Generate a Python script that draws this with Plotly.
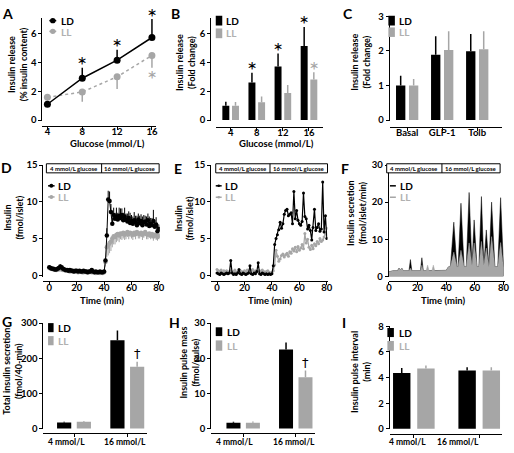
import plotly.graph_objects as go

W, H = 514, 453
def X(px): return px / W
def Y(py): return 1 - py / H

FONT = "Lato, Liberation Sans, Arial, sans-serif"
BLACK = "#000000"
GREY = "#a6a6a6"
LTXT = "#b0b0b0"

# ---------------- DATA ----------------
# Panel A
glucose = [4, 8, 12, 16]
A_LD = [1.1, 2.9, 4.15, 5.72]
A_LD_err = [0.05, 0.72, 0.72, 1.28]
A_LL = [1.58, 1.95, 3.0, 4.48]
A_LL_err = [0.05, 0.68, 0.84, 0.85]
A_LD_sig = [False, True, True, True]
A_LL_sig = [False, False, False, True]

# Panel B
B_cats = ["4", "8", "12", "16"]
B_LD = [1.0, 2.6, 3.71, 5.13]
B_LD_err = [0.27, 0.68, 0.9, 1.32]
B_LL = [1.0, 1.24, 1.87, 2.82]
B_LL_err = [0.26, 0.4, 0.56, 0.5]
B_LD_sig = [False, True, True, True]
B_LL_sig = [False, False, False, True]

# Panel C
C_cats = ["Basal", "GLP-1", "Tolb"]
C_LD = [1.0, 1.89, 1.99]
C_LD_err = [0.28, 0.54, 0.5]
C_LL = [1.0, 2.03, 2.05]
C_LL_err = [0.19, 0.54, 0.52]

# Panel D (perifusion, 1-min samples)
D_time = list(range(0, 81))
D_LD = [1.1, 1.0, 0.9, 0.9, 0.8, 0.8, 0.9, 1.0, 1.2, 1.1,
        0.9, 0.8, 0.7, 0.7, 0.6, 0.7, 0.6, 0.6, 0.5, 0.6,
        0.6, 0.5, 0.6, 0.5, 0.5, 0.6, 0.5, 0.5, 0.4, 0.5,
        0.5, 0.7, 0.5, 0.4, 0.5, 0.4, 0.4, 0.5, 0.4, 0.4,
        0.5,
        2.0, 5.4, 10.3, 10.1, 8.6, 7.0, 8.2, 7.7, 8.0, 7.6,
        8.1, 7.8, 8.2, 7.5, 8.0, 7.6, 7.3, 7.8, 7.1, 7.4,
        7.0, 7.5, 7.2, 6.8, 7.6, 7.1, 7.4, 6.8, 7.2, 7.3,
        6.9, 7.5, 6.7, 7.0, 6.8, 7.4, 6.6, 6.9, 6.0, 6.3]
D_LD_err = [0.2, 0.1, 0.1, 0.1, 0.1, 0.1, 0.1, 0.2, 0.3, 0.2,
            0.1, 0.1, 0.1, 0.1, 0.1, 0.1, 0.1, 0.1, 0.1, 0.1,
            0.1, 0.1, 0.1, 0.1, 0.1, 0.1, 0.1, 0.1, 0.1, 0.1,
            0.1, 0.2, 0.1, 0.1, 0.1, 0.1, 0.1, 0.1, 0.1, 0.1,
            0.1,
            0.4, 1.0, 1.2, 1.3, 1.1, 0.9, 1.0, 0.8, 1.2, 0.9,
            1.1, 1.3, 0.9, 1.0, 1.2, 0.8, 1.1, 0.9, 1.4, 0.8,
            1.0, 1.1, 0.9, 1.3, 0.8, 1.0, 0.9, 1.2, 1.0, 0.8,
            1.1, 0.9, 1.3, 0.8, 1.0, 1.5, 0.9, 1.0, 0.7, 0.6]
D_LL = [1.0, 0.9, 0.9, 0.8, 0.8, 0.7, 0.8, 0.8, 0.9, 0.8,
        0.7, 0.7, 0.6, 0.6, 0.6, 0.5, 0.6, 0.5, 0.5, 0.5,
        0.5, 0.4, 0.5, 0.5, 0.4, 0.4, 0.5, 0.4, 0.4, 0.4,
        0.5, 0.4, 0.4, 0.4, 0.3, 0.4, 0.4, 0.3, 0.4, 0.3,
        0.4,
        1.8, 3.8, 4.1, 4.4, 4.6, 5.0, 5.3, 5.2, 5.5, 5.6,
        5.4, 5.7, 5.6, 5.8, 5.5, 5.7, 5.9, 5.6, 5.8, 5.7,
        5.5, 5.8, 5.6, 5.9, 5.7, 5.6, 5.8, 5.5, 5.7, 5.9,
        5.6, 5.5, 5.7, 5.4, 5.6, 5.3, 5.5, 5.4, 5.2, 5.4]
D_LL_err = [0.1, 0.1, 0.1, 0.1, 0.1, 0.1, 0.1, 0.1, 0.1, 0.1,
            0.1, 0.1, 0.1, 0.1, 0.1, 0.1, 0.1, 0.1, 0.1, 0.1,
            0.1, 0.1, 0.1, 0.1, 0.1, 0.1, 0.1, 0.1, 0.1, 0.1,
            0.1, 0.1, 0.1, 0.1, 0.1, 0.1, 0.1, 0.1, 0.1, 0.1,
            0.1,
            0.6, 1.3, 1.4, 1.4, 1.3, 1.2, 1.1, 1.0, 1.0, 0.9,
            0.9, 0.8, 0.8, 0.8, 0.7, 0.8, 0.7, 0.7, 0.6, 0.7,
            0.7, 0.6, 0.7, 0.6, 0.7, 0.6, 0.6, 0.7, 0.6, 0.6,
            0.7, 0.6, 0.6, 0.5, 0.6, 0.6, 0.5, 0.6, 0.5, 0.5]

# Panel E (single representative experiment)
E_time = list(range(0, 81))
E_LD = [0.3, 0.2, 0.1, 0.3, 0.2, 0.1, 0.2, 0.3, 0.2, 0.3,
        2.0, 0.3, 0.1, 0.2, 0.1, 0.3, 0.8, 0.2, 0.1, 0.3,
        0.2, 0.1, 0.2, 0.3, 1.3, 0.2, 0.1, 0.3, 0.2, 0.5,
        1.7, 0.2, 0.1, 0.3, 0.2, 0.1, 0.2, 0.1, 0.2, 0.1,
        0.2,
        1.3, 4.2, 5.0, 5.5, 6.2, 7.2, 6.4, 7.0, 8.3, 8.8,
        9.0, 8.1, 8.3, 8.5, 7.0, 11.4, 7.7, 8.8, 7.5, 7.0,
        6.8, 7.3, 11.2, 8.0, 7.7, 6.3, 6.8, 6.1, 4.8, 6.5,
        9.0, 6.1, 6.5, 7.0, 6.0, 6.3, 12.7, 5.9, 8.1, 5.0]
E_LL = [0.8, 0.6, 0.5, 0.7, 0.4, 0.6, 0.5, 0.6, 0.4, 0.5,
        0.6, 0.4, 0.5, 0.7, 0.4, 0.5, 0.4, 0.6, 0.5, 0.4,
        0.6, 0.5, 0.7, 0.5, 0.4, 0.6, 0.8, 0.5, 0.6, 0.4,
        0.5, 0.6, 0.4, 0.7, 0.5, 0.4, 0.5, 0.6, 0.4, 0.3,
        0.4,
        0.6, 1.4, 3.4, 2.6, 1.9, 2.2, 2.7, 2.9, 2.5, 2.8,
        3.0, 2.6, 3.2, 3.0, 3.6, 3.3, 3.8, 3.2, 3.9, 3.4,
        3.7, 4.2, 3.6, 5.7, 4.4, 4.9, 3.8, 3.5, 4.1, 3.6,
        4.3, 4.0, 4.6, 4.3, 5.0, 4.6, 4.8, 5.2, 5.6, 6.4]

# Panel F (deconvolved secretion rate)
F_time = [0, 3, 6, 7, 8, 9, 10, 14, 15, 16, 22, 23, 24, 26, 27, 28, 30, 31, 32,
          40, 41.5, 43, 45.3, 47.5, 48.3, 50.3, 52.5, 54, 56, 58, 59.5, 61.5, 62.8, 64.6, 66.3,
          68, 69.8, 71.7, 74, 76, 78, 80]
F_LD = [1.2, 1.5, 1.5, 2.2, 1.8, 2.2, 1.5, 1.5, 4.5, 1.5, 1.5, 5.0, 1.5, 1.5, 1.5, 1.5, 1.5, 1.5, 1.5,
        1.6, 2.5, 2.8, 14.6, 2.6, 2.6, 19.7, 2.6, 2.6, 22.6, 3.0, 15.2, 2.6, 2.6, 21.5, 3.0,
        12.5, 2.6, 20.0, 2.6, 2.6, 21.2, 2.6]
F_LL = [1.2, 1.5, 1.5, 2.2, 1.8, 2.2, 1.5, 1.5, 2.2, 1.5, 1.5, 3.0, 1.5, 1.5, 3.0, 1.5, 1.5, 3.0, 1.5,
        1.6, 2.5, 2.8, 6.5, 2.6, 2.6, 7.0, 2.6, 2.6, 9.0, 3.0, 9.0, 2.6, 2.6, 9.4, 3.0,
        7.6, 2.6, 10.7, 2.6, 2.6, 9.1, 2.6]

# Panels G, H, I
GHI_cats = ["4 mmol/L", "16 mmol/L"]
G_LD = [17, 251]
G_LD_err = [2, 28]
G_LL = [19, 176]
G_LL_err = [2.5, 14]
H_LD = [1.6, 22.5]
H_LD_err = [0.3, 2.0]
H_LL = [1.6, 14.6]
H_LL_err = [0.4, 1.9]
I_LD = [4.35, 4.55]
I_LD_err = [0.4, 0.25]
I_LL = [4.7, 4.55]
I_LL_err = [0.25, 0.25]
GH_LL_sig = [False, True]

# ---------------- FIGURE ----------------
fig = go.Figure()
zeros = lambda n: [0] * n

def up(err, color, th=1.5):
    return dict(type="data", symmetric=False, array=err, arrayminus=zeros(len(err)),
                color=color, thickness=th, width=0)

def down(err, color, th=1.5):
    return dict(type="data", symmetric=False, array=zeros(len(err)), arrayminus=err,
                color=color, thickness=th, width=0)

# A
fig.add_trace(go.Scatter(x=glucose, y=A_LL, mode="lines+markers", xaxis="x", yaxis="y",
                         line=dict(color=GREY, width=1.5, dash="dot"),
                         marker=dict(color=GREY, size=7), error_y=down(A_LL_err, GREY)))
fig.add_trace(go.Scatter(x=glucose, y=A_LD, mode="lines+markers", xaxis="x", yaxis="y",
                         line=dict(color=BLACK, width=1.5),
                         marker=dict(color=BLACK, size=7), error_y=up(A_LD_err, BLACK)))

# B, C, G, H, I bars
def bars(cats, ld, lde, ll, lle, xa, ya):
    fig.add_trace(go.Bar(x=cats, y=ld, marker=dict(color=BLACK, line=dict(width=0)),
                         error_y=up(lde, BLACK), xaxis=xa, yaxis=ya))
    fig.add_trace(go.Bar(x=cats, y=ll, marker=dict(color=GREY, line=dict(width=0)),
                         error_y=up(lle, GREY), xaxis=xa, yaxis=ya))

bars(B_cats, B_LD, B_LD_err, B_LL, B_LL_err, "x2", "y2")
bars(C_cats, C_LD, C_LD_err, C_LL, C_LL_err, "x3", "y3")
bars(GHI_cats, G_LD, G_LD_err, G_LL, G_LL_err, "x7", "y7")
bars(GHI_cats, H_LD, H_LD_err, H_LL, H_LL_err, "x8", "y8")
bars(GHI_cats, I_LD, I_LD_err, I_LL, I_LL_err, "x9", "y9")

# D
fig.add_trace(go.Scatter(x=D_time, y=D_LL, mode="lines+markers", xaxis="x4", yaxis="y4",
                         line=dict(color=GREY, width=1), marker=dict(color=GREY, size=4.5),
                         error_y=down(D_LL_err, GREY, 1)))
fig.add_trace(go.Scatter(x=D_time, y=D_LD, mode="lines+markers", xaxis="x4", yaxis="y4",
                         line=dict(color=BLACK, width=1), marker=dict(color=BLACK, size=4.5),
                         error_y=up(D_LD_err, BLACK, 1)))
# E
fig.add_trace(go.Scatter(x=E_time, y=E_LL, mode="lines+markers", xaxis="x5", yaxis="y5",
                         line=dict(color=GREY, width=1.2), marker=dict(color=GREY, size=3)))
fig.add_trace(go.Scatter(x=E_time, y=E_LD, mode="lines+markers", xaxis="x5", yaxis="y5",
                         line=dict(color=BLACK, width=1.2), marker=dict(color=BLACK, size=3)))
# F
fig.add_trace(go.Scatter(x=F_time, y=F_LD, mode="lines", fill="tozeroy", xaxis="x6", yaxis="y6",
                         line=dict(color=BLACK, width=0.5), fillcolor=BLACK))
fig.add_trace(go.Scatter(x=F_time, y=F_LL, mode="lines", fill="tozeroy", xaxis="x6", yaxis="y6",
                         line=dict(color=GREY, width=0.5), fillcolor=GREY))

fig.update_traces(showlegend=False)

tickfont = dict(family=FONT, size=9.5, color="black", weight="bold")
common = dict(showline=True, linecolor="black", linewidth=1, ticks="outside", ticklen=3,
              tickwidth=1, tickcolor="black", showgrid=False, zeroline=False,
              tickfont=tickfont, fixedrange=True)
xcommon = dict(common, ticklabelstandoff=-6)

layout_axes = dict(
    xaxis=dict(domain=[X(41), X(156)], range=[3.43, 16.45], anchor="free", position=Y(123),
               tickvals=glucose, **xcommon),
    yaxis=dict(domain=[Y(118), Y(12)], range=[-0.07, 7.09], anchor="x", tickvals=[0, 2, 4, 6], **common),
    xaxis2=dict(domain=[X(217), X(325)], type="category", range=[-0.56, 3.52], anchor="free",
                position=Y(124), **xcommon),
    yaxis2=dict(domain=[Y(118), Y(12)], range=[-0.07, 7.09], anchor="free", position=X(211),
                tickvals=[0, 2, 4, 6], **common),
    xaxis3=dict(domain=[X(393), X(507)], type="category", range=[-0.5, 2.71], anchor="free",
                position=Y(124), **xcommon),
    yaxis3=dict(domain=[Y(118), Y(10.7)], range=[-0.03, 3.0], anchor="free", position=X(392),
                tickvals=[0, 1, 2, 3], **common),
    xaxis4=dict(domain=[X(42), X(160)], range=[-4.3, 80.7], anchor="free", position=Y(282),
                tickvals=[0, 20, 40, 60, 80], **xcommon),
    yaxis4=dict(domain=[Y(278), Y(163)], range=[-0.27, 15], anchor="x4", tickvals=[0, 5, 10, 15], **common),
    xaxis5=dict(domain=[X(212), X(330)], range=[-4.3, 80.5], anchor="free", position=Y(282),
                tickvals=[0, 20, 40, 60, 80], **xcommon),
    yaxis5=dict(domain=[Y(278), Y(163)], range=[-0.27, 15], anchor="x5", tickvals=[0, 5, 10, 15], **common),
    xaxis6=dict(domain=[X(392), X(510)], range=[-0.2, 81.1], anchor="free", position=Y(282),
                tickvals=[0, 20, 40, 60, 80], **xcommon),
    yaxis6=dict(domain=[Y(278), Y(163)], range=[-0.26, 30], anchor="x6", tickvals=[0, 10, 20, 30], **common),
    xaxis7=dict(domain=[X(42), X(147)], type="category", range=[-0.574, 1.37], anchor="free",
                position=Y(438), showticklabels=False, **common),
    yaxis7=dict(domain=[Y(434), Y(325)], range=[-2.8, 300], anchor="x7", tickvals=[0, 100, 200, 300], **common),
    xaxis8=dict(domain=[X(212), X(317)], type="category", range=[-0.61, 1.36], anchor="free",
                position=Y(438), showticklabels=False, **common),
    yaxis8=dict(domain=[Y(434), Y(325)], range=[-0.28, 30], anchor="x8", tickvals=[0, 10, 20, 30], **common),
    xaxis9=dict(domain=[X(393), X(507)], type="category", range=[-0.37, 1.35], anchor="free",
                position=Y(438.7), showticklabels=False, **common),
    yaxis9=dict(domain=[Y(434), Y(328.3)], range=[-0.05, 8], anchor="free", position=X(392),
                tickvals=[0, 2, 4, 6, 8], **common),
)

ann = []
shapes = []

def text(px, py, s, size=10, color="black", angle=0, xanchor="center", weight="bold"):
    ann.append(dict(x=X(px), y=Y(py), xref="paper", yref="paper", text=s, showarrow=False,
                    xanchor=xanchor, yanchor="middle", textangle=angle,
                    font=dict(family=FONT, size=size, color=color, weight=weight)))

# panel letters
for lab, px, py in [("A", 5.5, 7.5), ("B", 176, 7.5), ("C", 351, 7.7), ("D", 5, 166),
                    ("E", 178, 166.3), ("F", 347.5, 166.3), ("G", 5, 323), ("H", 175, 324),
                    ("I", 346.7, 324)]:
    text(px, py, lab, size=14)

# y-axis titles
for s, px, py in [("Insulin release<br>(% insulin content)", 16, 60),
                  ("Insulin release<br>(Fold change)", 186, 58),
                  ("Insulin release<br>(Fold change)", 364, 58),
                  ("Insulin<br>(fmol/islet)", 12, 217),
                  ("Insulin<br>(fmol/islet)", 185, 217),
                  ("Insulin secretion<br>(fmol/islet/min)", 360, 212),
                  ("Total insulin secretion<br>(fmol/40-min)", 11, 374),
                  ("Insulin pulse mass<br>(fmol/pulse)", 190, 365),
                  ("Insulin pulse interval<br>(min)", 364, 375)]:
    text(px, py, s, size=9, angle=-90)

# x-axis titles
for s, px, py in [("Glucose (mmol/L)", 107, 141), ("Glucose (mmol/L)", 278, 141),
                  ("Time (min)", 102, 302), ("Time (min)", 272, 302), ("Time (min)", 448, 302)]:
    text(px, py, s, size=9.5)

# category labels for G, H, I
for xa, shifts in [("x7", [-8, -2]), ("x8", [-9, -2]), ("x9", [-6, -21])]:
    for c, sh in zip(GHI_cats, shifts):
        ann.append(dict(x=c, xref=xa, y=Y(447), yref="paper", text=c, showarrow=False,
                        xshift=sh, yanchor="middle",
                        font=dict(family=FONT, size=8.5, color="black", weight="bold")))

# significance markers
def mark(xv, yv, xa, ya, s, color, xshift=0, below=False, size=24, family=FONT, yshift=None):
    ann.append(dict(x=xv, y=yv, xref=xa, yref=ya, text=s, showarrow=False, xshift=xshift,
                    yanchor="middle", yshift=(yshift if yshift is not None else (-11 if below else 3)),
                    font=dict(family=family, size=size, color=color)))

for i, g in enumerate(glucose):
    if A_LD_sig[i]:
        mark(g, A_LD[i] + A_LD_err[i], "x", "y", "*", BLACK)
    if A_LL_sig[i]:
        mark(g, A_LL[i] - A_LL_err[i], "x", "y", "*", GREY, below=True)
for i in range(len(B_cats)):
    if B_LD_sig[i]:
        mark(i, B_LD[i] + B_LD_err[i], "x2", "y2", "*", BLACK, xshift=-4.9)
    if B_LL_sig[i]:
        mark(i, B_LL[i] + B_LL_err[i], "x2", "y2", "*", GREY, xshift=4.9)
for i in range(len(GHI_cats)):
    if GH_LL_sig[i]:
        mark(i, G_LL[i] + G_LL_err[i], "x7", "y7", "\u2020", BLACK, xshift=10, size=13,
             family="DejaVu Sans", yshift=8)
        mark(i, H_LL[i] + H_LL_err[i], "x8", "y8", "\u2020", BLACK, xshift=10, size=13,
             family="DejaVu Sans", yshift=8)

# legends (keys)
def legend_bar(x0, y0, x1, y1, color):
    shapes.append(dict(type="rect", xref="paper", yref="paper", x0=X(x0), x1=X(x1), y0=Y(y1), y1=Y(y0),
                       fillcolor=color, line=dict(width=0)))

def legend_line(x0, x1, py, color, dot=True, r=2.0):
    shapes.append(dict(type="line", xref="paper", yref="paper", x0=X(x0), x1=X(x1), y0=Y(py), y1=Y(py),
                       line=dict(color=color, width=1.5)))
    if dot:
        cx = (x0 + x1) / 2
        shapes.append(dict(type="circle", xref="paper", yref="paper", x0=X(cx - r), x1=X(cx + r),
                           y0=Y(py + r), y1=Y(py - r), fillcolor=color, line=dict(width=0)))

LEG = 10
# A
legend_line(48, 55, 15, BLACK, r=2.8); legend_line(48, 55, 26, GREY, r=2.8)
text(57.5, 15, "LD", LEG, xanchor="left"); text(57.5, 26.5, "LL", LEG, LTXT, xanchor="left")
# B
legend_bar(216.7, 10, 223.3, 20, BLACK); legend_bar(216.7, 23, 223.3, 33, GREY)
text(225, 15, "LD", LEG, xanchor="left"); text(225, 28, "LL", LEG, LTXT, xanchor="left")
# C
legend_bar(391.7, 10, 398.3, 20, BLACK); legend_bar(391.7, 22, 398.3, 31.7, GREY)
text(400.3, 15, "LD", LEG, xanchor="left"); text(400.3, 27, "LL", LEG, LTXT, xanchor="left")
# D
legend_line(46.7, 53.3, 184.3, BLACK); legend_line(46.7, 53.3, 195.7, GREY)
text(55, 184.3, "LD", LEG, xanchor="left"); text(55, 195.7, "LL", LEG, LTXT, xanchor="left")
# E
legend_line(216.7, 222.7, 184.3, BLACK, r=1.3); legend_line(216.7, 222.7, 196, GREY, r=1.3)
text(224.5, 184.3, "LD", LEG, xanchor="left"); text(224.5, 196, "LL", LEG, LTXT, xanchor="left")
# F
legend_line(393.3, 399.3, 184.3, BLACK, dot=False); legend_line(393.3, 399.3, 196, GREY, dot=False)
text(401.5, 184.3, "LD", LEG, xanchor="left"); text(401.5, 196, "LL", LEG, LTXT, xanchor="left")
# G
legend_bar(46.7, 325, 52.3, 334.3, BLACK); legend_bar(46.7, 338.3, 52.3, 347.7, GREY)
text(55, 330, "LD", LEG, xanchor="left"); text(55, 343, "LL", LEG, LTXT, xanchor="left")
# H
legend_bar(216.7, 329.3, 223.3, 338.3, BLACK); legend_bar(216.7, 342.7, 223.3, 353.3, GREY)
text(226.5, 334, "LD", LEG, xanchor="left"); text(226.5, 348, "LL", LEG, LTXT, xanchor="left")
# I
legend_bar(390.7, 330, 397.3, 339.3, BLACK); legend_bar(390.7, 343.3, 397.3, 353.3, GREY)
text(400, 335, "LD", LEG, xanchor="left"); text(400, 348, "LL", LEG, LTXT, xanchor="left")

# glucose boxes for D, E, F
for x0, xm, x1 in [(45, 101, 159.3), (216.7, 271.7, 330), (390, 446, 505)]:
    shapes.append(dict(type="rect", xref="paper", yref="paper", x0=X(x0), x1=X(x1), y0=Y(171), y1=Y(161.7),
                       line=dict(color="black", width=1), fillcolor="white"))
    shapes.append(dict(type="line", xref="paper", yref="paper", x0=X(xm), x1=X(xm), y0=Y(171), y1=Y(161.7),
                       line=dict(color="black", width=1)))
    text((x0 + xm) / 2, 166.4, "4 mmol/L glucose", 6)
    text((xm + x1) / 2, 166.4, "16 mmol/L glucose", 6)

fig.update_layout(
    width=W, height=H, margin=dict(l=0, r=0, t=0, b=0),
    paper_bgcolor="white", plot_bgcolor="white",
    barmode="group", bargap=0.26, bargroupgap=0.28,
    showlegend=False, annotations=ann, shapes=shapes,
    font=dict(family=FONT, color="black"),
    **layout_axes,
)

fig.write_html("out.html", config={"displayModeBar": False},
               post_script="document.body.style.margin='0';document.body.style.overflow='hidden';")
